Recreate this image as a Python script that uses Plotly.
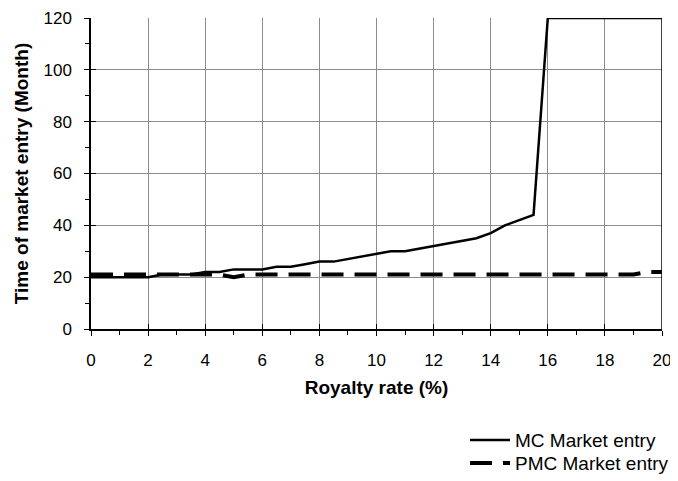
import plotly.graph_objects as go

royalty = [0, 0.5, 1, 1.5, 2, 2.5, 3, 3.5, 4, 4.5, 5, 5.5, 6, 6.5, 7, 7.5, 8, 8.5, 9, 9.5,
           10, 10.5, 11, 11.5, 12, 12.5, 13, 13.5, 14, 14.5, 15, 15.5, 16, 16.5, 17, 17.5,
           18, 18.5, 19, 19.5, 20]
mc_entry = [20, 20, 20, 20, 20, 21, 21, 21, 22, 22, 23, 23, 23, 24, 24, 25, 26, 26, 27, 28,
            29, 30, 30, 31, 32, 33, 34, 35, 37, 40, 42, 44, 120, 120, 120, 120,
            120, 120, 120, 120, 120]
pmc_entry = [21, 21, 21, 21, 21, 21, 21, 21, 21, 21, 20, 21, 21, 21, 21, 21, 21, 21, 21, 21,
             21, 21, 21, 21, 21, 21, 21, 21, 21, 21, 21, 21, 21, 21, 21, 21,
             21, 21, 21, 22, 22]

FONT = "Liberation Sans, Arial, sans-serif"

fig = go.Figure()
fig.add_trace(go.Scatter(x=royalty, y=mc_entry, mode="lines", name="MC Market entry",
                         line=dict(color="black", width=2.5), legend="legend"))
fig.add_trace(go.Scatter(x=royalty, y=pmc_entry, mode="lines", name="PMC Market entry",
                         line=dict(color="black", width=4, dash="22px,11px"), legend="legend2"))
# invisible trace to make the overlay axes (inside tick marks) render
fig.add_trace(go.Scatter(x=[0], y=[0], xaxis="x2", yaxis="y2", mode="markers",
                         marker=dict(opacity=0), showlegend=False, hoverinfo="skip"))

axis_common = dict(showline=True, linecolor="black", linewidth=1.5, zeroline=False,
                   ticks="outside", ticklen=5, tickwidth=1.2, tickcolor="black",
                   tickfont=dict(family=FONT, size=17, color="black"),
                   showgrid=True, gridcolor="#8c8c8c", gridwidth=1, automargin=False)

legend_common = dict(x=0.655, xanchor="left", yanchor="middle",
                     font=dict(family=FONT, size=19, color="black"),
                     bgcolor="rgba(0,0,0,0)", itemwidth=40)

# the page body has an 8px margin, so the figure is sized to the visible area
fig.update_layout(
    width=670, height=473,
    margin=dict(l=83, r=16, t=10, b=152, autoexpand=False),
    paper_bgcolor="white", plot_bgcolor="white",
    font=dict(family=FONT, color="black"),
    xaxis=dict(range=[0, 20], dtick=2, tick0=0, ticklabelstandoff=10,
               minor=dict(dtick=1, ticks="outside", ticklen=4, tickcolor="black", showgrid=False),
               title=dict(text="<b>Royalty rate (%)</b>", font=dict(family=FONT, size=19), standoff=12),
               **axis_common),
    yaxis=dict(range=[0, 120], dtick=20, tick0=0, ticklabelstandoff=9,
               minor=dict(dtick=10, ticks="outside", ticklen=4, tickcolor="black", showgrid=False),
               title=dict(text="<b>Time of market entry (Month)</b>", font=dict(family=FONT, size=19), standoff=10),
               **axis_common),
    xaxis2=dict(overlaying="x", range=[0, 20], dtick=2, tick0=0, ticks="inside", ticklen=5,
                tickwidth=1.2, tickcolor="black", showticklabels=False, showgrid=False,
                zeroline=False, showline=False, anchor="y2"),
    yaxis2=dict(overlaying="y", range=[0, 120], dtick=20, tick0=0, ticks="inside", ticklen=5,
                tickwidth=1.2, tickcolor="black", showticklabels=False, showgrid=False,
                zeroline=False, showline=False, anchor="x2", side="left"),
    legend=dict(y=-0.357, **legend_common),
    legend2=dict(y=-0.431, **legend_common),
    showlegend=True,
)
# right border of the plot area
fig.add_shape(type="line", xref="x", yref="paper", x0=20, x1=20, y0=0, y1=1,
              line=dict(color="black", width=1.5))

fig.write_html("out.html")
